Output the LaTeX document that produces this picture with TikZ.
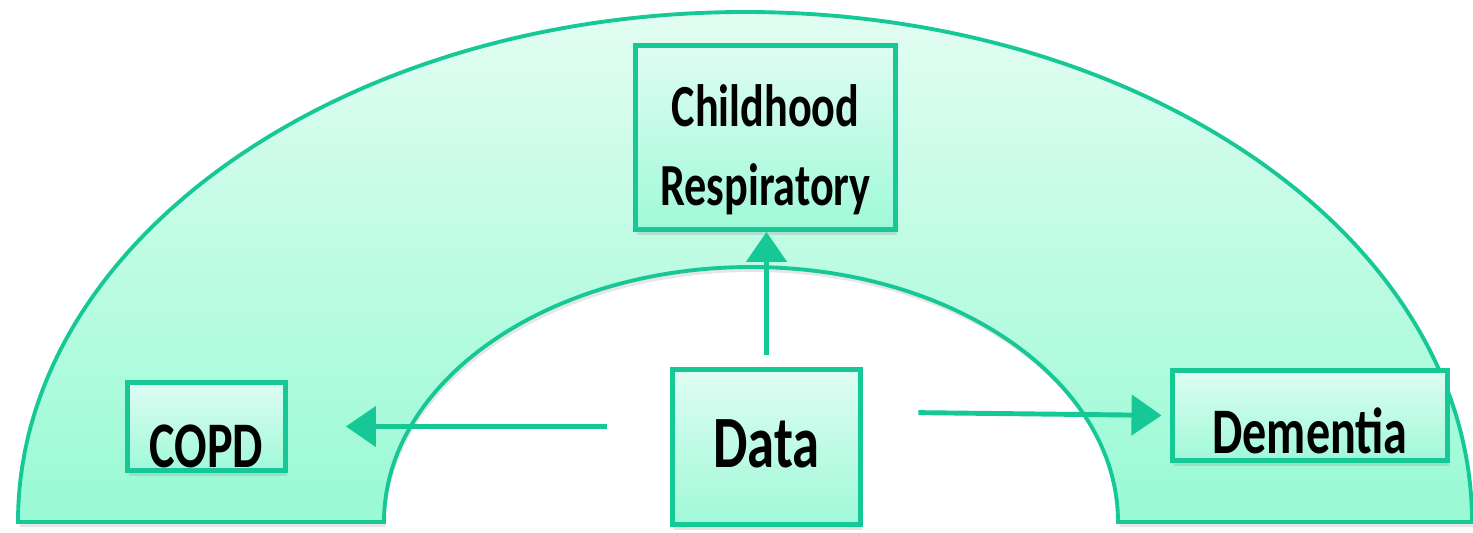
\documentclass[tikz,border=0pt]{standalone}
\usepackage{fontspec}
\setmainfont{Carlito}[FakeStretch=0.74]
\usetikzlibrary{arrows.meta,shadows}

\begin{document}
\begin{tikzpicture}[
    box/.style={draw=customteal, line width=2.8pt, top color=boxtop, bottom color=boxbottom,
        inner xsep=0pt, inner ysep=0pt, anchor=base,
        drop shadow={opacity=0.22, shadow xshift=0.03cm, shadow yshift=-0.1cm}},
    flow/.style={draw=customteal, line width=2.8pt, -{Triangle[length=0.6cm, width=0.8cm]}}
]
    % Define colors
    \definecolor{customteal}{RGB}{22, 200, 150}
    \definecolor{archtop}{RGB}{226, 253, 242}
    \definecolor{archbottom}{RGB}{152, 250, 212}
    \definecolor{boxtop}{RGB}{222, 253, 243}
    \definecolor{boxbottom}{RGB}{160, 249, 216}

    \def\outerrx{14.54}
    \def\outerry{10.2}
    \def\innerrx{7.34}
    \def\innerry{5.1}

    \useasboundingbox (0,0) rectangle (29.46,10.64);

    \coordinate (o1) at (0.36,0.2);
    \coordinate (i1) at (22.36,0.2);

    \coordinate (copd base) at (4.13,1.30);
    \coordinate (data base) at (15.33,1.30);
    \coordinate (dementia base) at (26.2,1.58);
    \coordinate (child base) at (15.31,6.54);

    % Draw the arch
    \draw[customteal, line width=2.2pt, top color=archtop, bottom color=archbottom,
        drop shadow={opacity=0.2, shadow xshift=0.03cm, shadow yshift=-0.1cm}]
        (o1) arc[start angle=180, end angle=0, x radius=\outerrx, y radius=\outerry]
        -- (i1) arc[start angle=0, end angle=180, x radius=\innerrx, y radius=\innerry]
        -- cycle;

    % Boxes
    \node[box, minimum width=3.16cm, text height=1.69cm, text depth=0.07cm,
        font=\fontsize{37}{44}\selectfont\bfseries] (copd) at (copd base) {COPD};
    \node[box, minimum width=3.76cm, text height=1.95cm, text depth=1.15cm,
        font=\fontsize{42}{50}\selectfont\bfseries] (data) at (data base) {Data};
    \node[box, minimum width=5.5cm, text height=1.65cm, text depth=0.15cm,
        font=\fontsize{37}{44}\selectfont\bfseries] (dementia) at (dementia base) {Dementia};
    \node[box, minimum width=5.2cm, text height=3.19cm, text depth=0.49cm, align=center,
        font=\fontsize{34}{44.4}\selectfont\bfseries] (child) at (child base) {Childhood\\Respiratory};

    % Arrows
    \draw[flow, shorten <=1.27cm, shorten >=1.16cm] (data.west |- copd.east) -- (copd.east);
    \draw[flow, shorten <=1.11cm, shorten >=0.17cm] ([yshift=0.07cm]data.east |- dementia.west) -- (dementia.west);
    \draw[flow, shorten <=0.25cm] (data.north) -- (data.north |- child.south);
\end{tikzpicture}
\end{document}
